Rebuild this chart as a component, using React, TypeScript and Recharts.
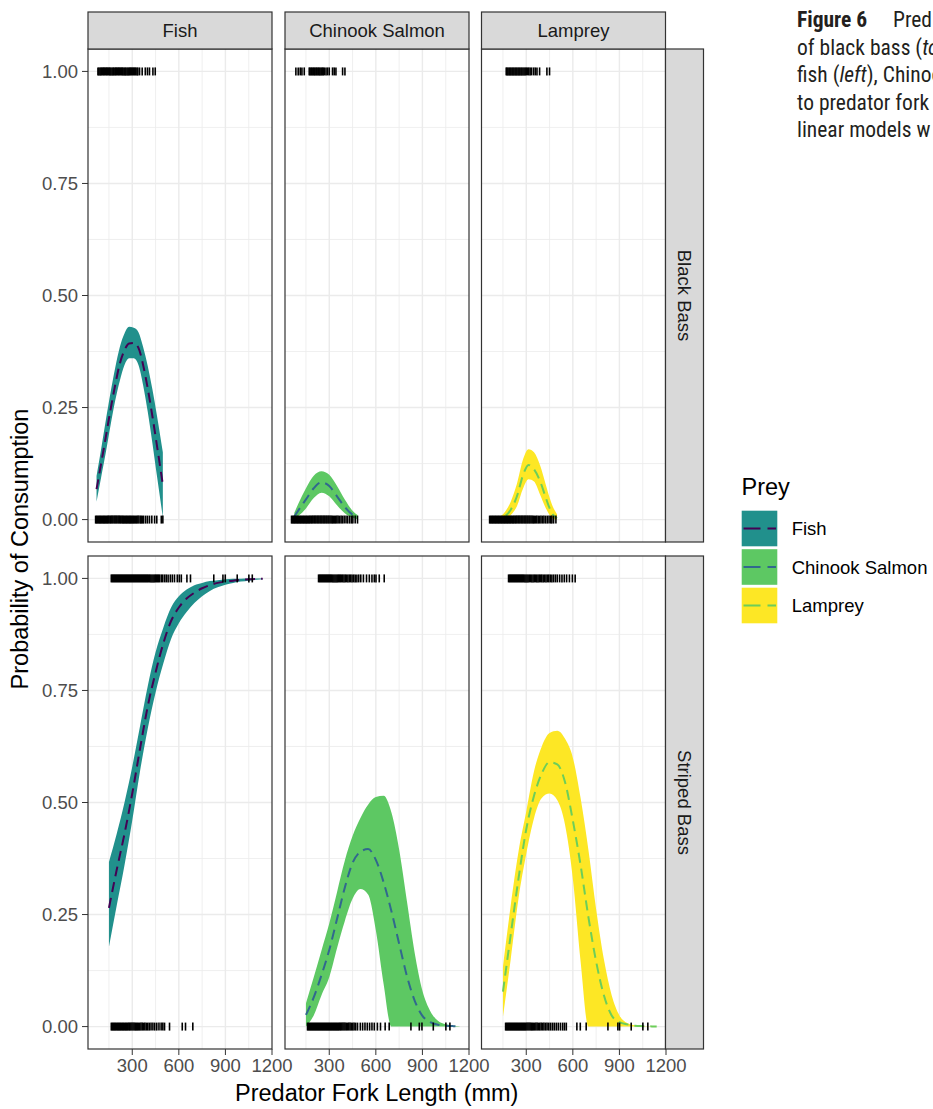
import { ComposedChart, Area, Line, Scatter, XAxis, YAxis, ReferenceLine } from 'recharts'

const FONT = '"Liberation Sans", Arial, Helvetica, sans-serif'
const CAPTION_FONT = '"Liberation Sans Narrow", "Roboto Condensed", Roboto, sans-serif'

const preyNames = ['Fish', 'Chinook Salmon', 'Lamprey']
const predatorNames = ['Black Bass', 'Striped Bass']
const fillColors = ['#21908C', '#5DC863', '#FDE725']
const lineColors = ['#440154', '#31688E', '#6CCE59']

const xTicks = [300, 600, 900, 1200]
const xMinor = [150, 450, 750, 1050]
const yTicks = [0, 0.25, 0.5, 0.75, 1]
const yMinor = [0.125, 0.375, 0.625, 0.875]

// ---- Black bass: fitted probability + 95% band ----
const bbFishX   = [70, 100, 130, 160, 190, 220, 250, 280, 310, 340, 370, 400, 430, 460, 497]
const bbFishFit = [0.068, 0.126, 0.185, 0.245, 0.300, 0.348, 0.378, 0.393, 0.394, 0.383, 0.345, 0.292, 0.230, 0.163, 0.078]
const bbFishLo  = [0.040, 0.095, 0.150, 0.210, 0.265, 0.310, 0.345, 0.360, 0.360, 0.345, 0.300, 0.240, 0.170, 0.095, 0.005]
const bbFishHi  = [0.097, 0.158, 0.222, 0.283, 0.338, 0.385, 0.415, 0.430, 0.428, 0.418, 0.385, 0.342, 0.290, 0.230, 0.150]

const bbChinX   = [75, 100, 150, 200, 250, 300, 350, 400, 450, 482]
const bbChinFit = [0.007, 0.020, 0.045, 0.070, 0.083, 0.075, 0.052, 0.028, 0.011, 0.005]
const bbChinLo  = [0.002, 0.008, 0.025, 0.048, 0.060, 0.052, 0.032, 0.014, 0.004, 0.001]
const bbChinHi  = [0.015, 0.035, 0.070, 0.098, 0.108, 0.100, 0.075, 0.045, 0.020, 0.010]

const bbLampX   = [70, 100, 150, 200, 240, 280, 315, 350, 390, 420, 445, 470, 498]
const bbLampFit = [0.0002, 0.001, 0.005, 0.022, 0.052, 0.100, 0.122, 0.112, 0.085, 0.055, 0.030, 0.012, 0.003]
const bbLampLo  = [0, 0, 0.001, 0.010, 0.030, 0.070, 0.090, 0.085, 0.055, 0.030, 0.013, 0.003, 0]
const bbLampHi  = [0.0005, 0.003, 0.012, 0.040, 0.080, 0.135, 0.157, 0.150, 0.120, 0.085, 0.055, 0.030, 0.012]

// ---- Striped bass ----
const sbX       = [150, 200, 250, 300, 350, 400, 450, 500, 550, 600, 650, 700, 750, 800, 850, 900, 950, 1000, 1050, 1100, 1140]
const sbFishFit = [0.265, 0.350, 0.430, 0.520, 0.620, 0.715, 0.790, 0.855, 0.905, 0.935, 0.955, 0.968, 0.978, 0.985, 0.990, 0.993, 0.995, 0.997, 0.998, 0.999, 0.9995]
const sbFishLo  = [0.178, 0.270, 0.360, 0.460, 0.570, 0.665, 0.745, 0.810, 0.865, 0.900, 0.925, 0.945, 0.960, 0.972, 0.980, 0.986, 0.990, 0.993, 0.995, 0.997, 0.998]
const sbFishHi  = [0.367, 0.430, 0.500, 0.580, 0.670, 0.760, 0.835, 0.890, 0.935, 0.960, 0.975, 0.985, 0.990, 0.994, 0.996, 0.998, 0.999, 0.9993, 0.9996, 0.9998, 0.9999]

const sbChinFit = [0.026, 0.065, 0.115, 0.171, 0.240, 0.310, 0.365, 0.390, 0.396, 0.372, 0.322, 0.258, 0.185, 0.113, 0.058, 0.024, 0.010, 0.004, 0.002, 0.001, 0.0005]
const sbChinLo  = [0.000, 0.025, 0.070, 0.110, 0.175, 0.235, 0.285, 0.307, 0.295, 0.215, 0.095, 0, 0, 0, 0, 0, 0, 0, 0, 0, 0]
const sbChinHi  = [0.052, 0.110, 0.170, 0.230, 0.300, 0.370, 0.425, 0.465, 0.495, 0.512, 0.515, 0.478, 0.395, 0.280, 0.165, 0.080, 0.035, 0.013, 0.005, 0.002, 0.001]

const sbLampFit = [0.078, 0.205, 0.330, 0.440, 0.515, 0.565, 0.590, 0.585, 0.545, 0.460, 0.360, 0.245, 0.145, 0.070, 0.025, 0.010, 0.005, 0.002, 0.001, 0.0005, 0.0003]
const sbLampLo  = [0.022, 0.150, 0.285, 0.385, 0.465, 0.510, 0.520, 0.505, 0.450, 0.330, 0.145, 0, 0, 0, 0, 0, 0, 0, 0, 0, 0]
const sbLampHi  = [0.134, 0.270, 0.390, 0.480, 0.570, 0.625, 0.655, 0.660, 0.642, 0.600, 0.510, 0.395, 0.262, 0.150, 0.070, 0.025, 0.008, 0.003, 0.001, 0.0005, 0.0003]

// ---- observed fork lengths (rug): consumed (1) / not consumed (0) ----
const bbFishYes = [79, 85, 92, 98, 103, 110, 116, 121, 128, 134, 139, 146, 152, 157, 163, 170, 176, 181, 188, 194, 199, 206, 212, 217, 224, 230, 236, 241, 248, 254, 259, 266, 272, 278, 284, 290, 296, 303, 309, 316, 322, 330, 336, 347, 364, 384, 398, 411, 433, 448]
const bbFishNo  = [64, 70, 76, 83, 89, 95, 101, 108, 114, 120, 126, 133, 139, 145, 151, 158, 164, 170, 176, 183, 189, 195, 201, 208, 214, 220, 226, 233, 239, 245, 251, 258, 264, 270, 277, 283, 289, 295, 302, 308, 315, 322, 329, 336, 343, 352, 358, 366, 373, 386, 398, 411, 426, 444, 458, 487, 497]
const bbChinYes = [85, 100, 113, 124, 139, 171, 177, 184, 190, 197, 203, 209, 216, 222, 229, 235, 241, 248, 255, 261, 268, 279, 289, 300, 321, 332, 343, 386, 401]
const bbChinNo  = [57, 63, 70, 76, 82, 89, 95, 101, 108, 114, 120, 127, 133, 139, 146, 152, 158, 165, 171, 177, 184, 190, 196, 203, 209, 215, 222, 228, 234, 241, 247, 253, 260, 266, 272, 279, 285, 292, 298, 305, 312, 319, 326, 334, 341, 349, 357, 366, 376, 385, 396, 408, 419, 432, 444, 452, 467, 482]
const bbLampYes = [171, 177, 183, 190, 196, 202, 209, 215, 221, 228, 234, 240, 247, 253, 259, 266, 272, 279, 286, 293, 300, 308, 316, 325, 334, 347, 358, 369, 386, 433, 450]
const bbLampNo  = [64, 70, 77, 83, 89, 96, 102, 108, 115, 121, 127, 134, 140, 146, 153, 159, 165, 172, 178, 184, 191, 197, 203, 210, 216, 222, 229, 235, 241, 248, 254, 260, 267, 273, 279, 286, 292, 298, 305, 311, 318, 324, 331, 338, 345, 352, 360, 368, 377, 386, 395, 405, 414, 425, 436, 447, 458, 465, 476, 491]
const sbFishYes = [165, 172, 178, 185, 191, 198, 204, 211, 217, 224, 230, 237, 243, 250, 256, 263, 269, 276, 282, 289, 295, 302, 308, 315, 321, 328, 334, 341, 347, 354, 360, 367, 373, 380, 386, 393, 399, 406, 413, 420, 427, 434, 441, 448, 455, 462, 469, 476, 487, 496, 508, 519, 531, 545, 558, 572, 590, 603, 616, 652, 675, 825, 884, 899, 976, 1051, 1073]
const sbFishNo  = [165, 172, 178, 185, 191, 198, 205, 211, 218, 224, 231, 238, 244, 251, 258, 264, 271, 278, 284, 291, 298, 305, 312, 319, 326, 333, 340, 348, 356, 364, 372, 381, 390, 400, 410, 421, 433, 445, 458, 472, 486, 497, 508, 540, 622, 643, 690]
const sbChinYes = [231, 238, 244, 251, 257, 264, 270, 277, 283, 290, 296, 303, 309, 316, 323, 330, 337, 344, 351, 358, 365, 372, 379, 387, 395, 403, 411, 420, 429, 438, 447, 457, 467, 478, 490, 503, 520, 540, 558, 575, 590, 601, 622, 654]
const sbChinNo  = [160, 166, 173, 179, 186, 192, 199, 205, 212, 218, 225, 231, 238, 244, 251, 257, 264, 270, 277, 283, 290, 296, 303, 309, 316, 322, 329, 335, 342, 348, 355, 361, 368, 374, 381, 388, 395, 402, 410, 418, 426, 434, 442, 451, 460, 470, 482, 500, 515, 530, 545, 560, 575, 590, 610, 630, 660, 686, 826, 880, 897, 970, 1051, 1077]
const sbLampYes = [186, 193, 199, 206, 212, 219, 225, 232, 238, 245, 251, 258, 264, 271, 277, 284, 291, 298, 305, 312, 320, 328, 336, 344, 352, 360, 368, 376, 384, 392, 400, 409, 418, 427, 436, 445, 455, 465, 476, 488, 500, 515, 530, 545, 560, 578, 597, 615]
const sbLampNo  = [167, 173, 180, 186, 193, 199, 206, 212, 219, 225, 232, 238, 245, 251, 258, 264, 271, 277, 284, 290, 297, 304, 311, 318, 325, 332, 339, 346, 354, 362, 370, 378, 387, 396, 405, 414, 424, 434, 445, 456, 468, 480, 493, 506, 520, 534, 546, 558, 626, 648, 686, 826, 890, 901, 976, 1051, 1083]

const curve = (x: number[], fit: number[], lo: number[], hi: number[]) =>
  x.map((v, i) => ({ x: v, fit: fit[i], band: [lo[i], hi[i]] }))
const rug = (yes: number[], no: number[]) =>
  [...yes.map(v => ({ x: v, y: 1 })), ...no.map(v => ({ x: v, y: 0 }))]

// row-major: Black Bass row, then Striped Bass row
const panels = [
  { curve: curve(bbFishX, bbFishFit, bbFishLo, bbFishHi), rug: rug(bbFishYes, bbFishNo) },
  { curve: curve(bbChinX, bbChinFit, bbChinLo, bbChinHi), rug: rug(bbChinYes, bbChinNo) },
  { curve: curve(bbLampX, bbLampFit, bbLampLo, bbLampHi), rug: rug(bbLampYes, bbLampNo) },
  { curve: curve(sbX, sbFishFit, sbFishLo, sbFishHi), rug: rug(sbFishYes, sbFishNo) },
  { curve: curve(sbX, sbChinFit, sbChinLo, sbChinHi), rug: rug(sbChinYes, sbChinNo) },
  { curve: curve(sbX, sbLampFit, sbLampLo, sbLampHi), rug: rug(sbLampYes, sbLampNo) },
]

const PANEL_LEFT = [88, 285, 481.5]
const PANEL_TOP = [49, 556]
const PW = 184
const PH = 493
const STRIP_Y = 12
const STRIP_H = 37
const RSTRIP_W = 38

const tickStyle = { fill: '#4D4D4D', fontSize: 18.5, fontFamily: FONT }

const RugTick = (props: any) => {
  const { cx, cy } = props
  if (cx == null || cy == null) return null
  return <line x1={cx} x2={cx} y1={cy - 4} y2={cy + 4} stroke="#000" strokeWidth={1.6} />
}

function Panel({ row, col }: { row: number; col: number }) {
  const d = panels[row * 3 + col]
  const showY = col === 0
  const showX = row === 1
  const yW = showY ? 80 : 0
  const xH = showX ? 44 : 0
  const extraR = showX ? 26 : 0
  const w = yW + PW + extraR
  const h = PH + xH
  return (
    <div style={{ position: 'absolute', left: PANEL_LEFT[col] - yW, top: PANEL_TOP[row], width: w, height: h }}>
      <ComposedChart width={w} height={h} margin={{ top: 0, right: extraR, bottom: 0, left: 0 }}>
        <XAxis dataKey="x" type="number" domain={[15, 1200]} ticks={xTicks} allowDataOverflow interval={0}
          hide={!showX} height={xH} tickSize={6} tickMargin={4} axisLine={false}
          tickLine={{ stroke: '#333' }} tick={tickStyle} />
        <YAxis type="number" domain={[-0.05, 1.05]} ticks={yTicks} allowDataOverflow interval={0}
          hide={!showY} width={yW} tickSize={6} tickMargin={4} axisLine={false}
          tickLine={{ stroke: '#333' }} tick={tickStyle} tickFormatter={(v: number) => v.toFixed(2)} />
        {xMinor.map(v => <ReferenceLine key={'xm' + v} x={v} stroke="#EBEBEB" strokeWidth={0.8} zIndex={-100} />)}
        {yMinor.map(v => <ReferenceLine key={'ym' + v} y={v} stroke="#EBEBEB" strokeWidth={0.8} zIndex={-100} />)}
        {xTicks.slice(0, 3).map(v => <ReferenceLine key={'x' + v} x={v} stroke="#EBEBEB" strokeWidth={1.4} zIndex={-100} />)}
        {yTicks.map(v => <ReferenceLine key={'y' + v} y={v} stroke="#EBEBEB" strokeWidth={1.4} zIndex={-100} />)}
        <Area data={d.curve} dataKey="band" type="monotone" stroke="none" fill={fillColors[col]} fillOpacity={1}
          dot={false} activeDot={false} isAnimationActive={false} />
        <Line data={d.curve} dataKey="fit" type="monotone" stroke={lineColors[col]} strokeWidth={2}
          strokeDasharray="10 6" dot={false} activeDot={false} isAnimationActive={false} />
        <Scatter data={d.rug} dataKey="y" shape={RugTick} isAnimationActive={false} />
      </ComposedChart>
    </div>
  )
}

export default function App() {
  const rows = [0, 1]
  const cols = [0, 1, 2]
  const xMid = (PANEL_LEFT[0] + PANEL_LEFT[2] + PW) / 2
  const yMid = (PANEL_TOP[0] + PANEL_TOP[1] + PH) / 2
  const rightX = PANEL_LEFT[2] + PW
  return (
    <div style={{ position: 'absolute', left: 0, top: 0, width: 933, height: 1109, overflow: 'hidden', background: '#fff', fontFamily: FONT }}>
      {rows.map(r => cols.map(c => <Panel key={r + '-' + c} row={r} col={c} />))}
      <svg width={933} height={1109} style={{ position: 'absolute', left: 0, top: 0, pointerEvents: 'none' }}>
        {/* panel borders */}
        {rows.map(r => cols.map(c => (
          <rect key={'b' + r + c} x={PANEL_LEFT[c]} y={PANEL_TOP[r]} width={PW} height={PH}
            fill="none" stroke="#333" strokeWidth={1.2} />
        )))}
        {/* top strips */}
        {cols.map(c => (
          <g key={'s' + c}>
            <rect x={PANEL_LEFT[c]} y={STRIP_Y} width={PW} height={STRIP_H} fill="#D9D9D9" stroke="#333" strokeWidth={1.2} />
            <text x={PANEL_LEFT[c] + PW / 2} y={36.7} textAnchor="middle" fontSize={18.5} fill="#1A1A1A" fontFamily={FONT}>{preyNames[c]}</text>
          </g>
        ))}
        {/* right strips */}
        {rows.map(r => (
          <g key={'rs' + r}>
            <rect x={rightX} y={PANEL_TOP[r]} width={RSTRIP_W} height={PH} fill="#D9D9D9" stroke="#333" strokeWidth={1.2} />
            <text transform={`translate(${rightX + RSTRIP_W / 2 - 6.6},${PANEL_TOP[r] + PH / 2}) rotate(90)`}
              textAnchor="middle" fontSize={18.5} fill="#1A1A1A" fontFamily={FONT}>{predatorNames[r]}</text>
          </g>
        ))}
        {/* axis titles */}
        <text x={xMid} y={1101} textAnchor="middle" fontSize={23.5} fill="#000" fontFamily={FONT}>Predator Fork Length (mm)</text>
        <text transform={`translate(28.4,${yMid}) rotate(-90)`} textAnchor="middle" fontSize={23.5} fill="#000" fontFamily={FONT}>Probability of Consumption</text>
        {/* legend */}
        <text x={741.5} y={495} fontSize={23.5} fill="#000" fontFamily={FONT}>Prey</text>
        {preyNames.map((name, i) => {
          const ky = 510.7 + i * 38.5
          return (
            <g key={'lg' + i}>
              <rect x={741.7} y={ky} width={35.6} height={35.6} fill={fillColors[i]} />
              <line x1={743.5} x2={776} y1={ky + 17.8} y2={ky + 17.8} stroke={lineColors[i]} strokeWidth={2} strokeDasharray="17 7" />
              <text x={791.7} y={ky + 24.4} fontSize={18.5} fill="#000" fontFamily={FONT}>{name}</text>
            </g>
          )
        })}
        {/* caption (cut off at the page edge, as in the source page) */}
        <g fontFamily={CAPTION_FONT} fontSize={21.5} fill="#231F20">
          <text x={797} y={27}><tspan fontWeight="bold">Figure 6</tspan><tspan x={893}>Pred</tspan></text>
          <text x={797} y={54.5}>of black bass (<tspan fontStyle="italic">to</tspan></text>
          <text x={797} y={82}>fish (<tspan fontStyle="italic">left</tspan>), Chinoo</text>
          <text x={797} y={109.5}>to predator fork</text>
          <text x={797} y={137}>linear models w</text>
        </g>
      </svg>
    </div>
  )
}
